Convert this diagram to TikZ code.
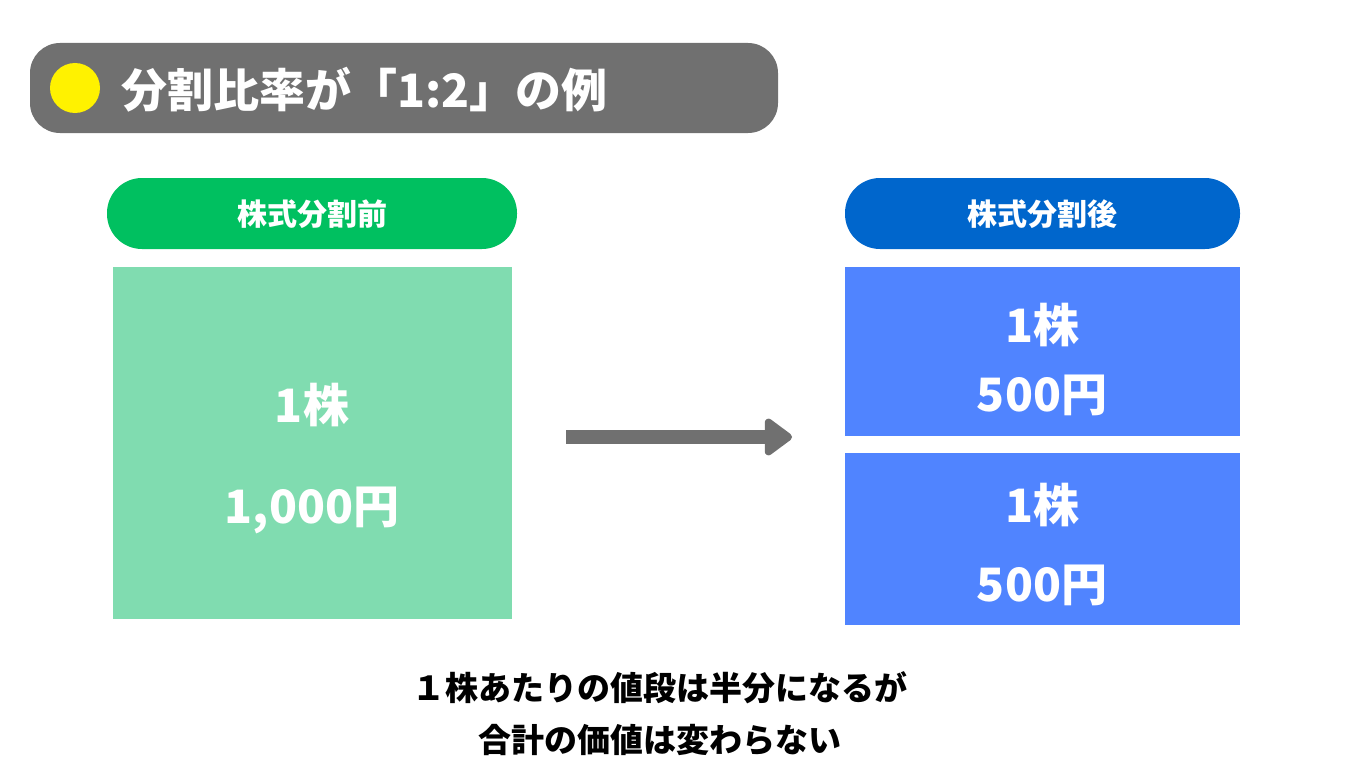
\documentclass[tikz,border=0pt]{standalone}
\usepackage{fontspec}
\setmainfont{Noto Sans CJK JP}
\usetikzlibrary{arrows.meta}
\definecolor{titlegray}{HTML}{707070}
\definecolor{tagbefore}{HTML}{00C060}
\definecolor{tagafter}{HTML}{0066CC}
\definecolor{boxbefore}{HTML}{80DCB0}
\definecolor{boxafter}{HTML}{5084FF}
\tikzset{
	tag/.style   = {rounded corners=35pt, inner sep=0pt},
	price/.style = {text=white, font=\fontsize{46}{50}\selectfont\bfseries},
	label/.style = {text=white, font=\fontsize{30}{34}\selectfont\bfseries}
}
\begin{document}
\begin{tikzpicture}[x=1pt, y=-1pt]
	\useasboundingbox (0,0) rectangle (1347,768);
	\fill[white] (0,0) rectangle (1347,768);
	% title
	\fill[titlegray, rounded corners=30pt] (30,43) rectangle (778,133);
	\fill[yellow] (75,88) circle (25);
	\node[anchor=west, text=white, font=\fontsize{46}{50}\selectfont\bfseries] (title) at (118,90) {分割比率が「1:2」の例};
	% before
	\fill[tagbefore, tag] (107,178) rectangle (517,249);
	\node[label] (tagb) at (312,214) {株式分割前};
	\fill[boxbefore] (113,267) rectangle (512,619);
	\node[price] (sb) at (312,405) {1株};
	\node[price] (pb) at (312,510) {1,000円};
	% arrow
	\coordinate (a1) at (566,437);
	\coordinate (a2) at (792,437);
	\draw[titlegray, line width=14pt, -{Triangle[length=30pt,width=42pt,round]}] (a1) -- (a2);
	% after
	\fill[tagafter, tag] (845,178) rectangle (1240,249);
	\node[label] (taga) at (1042,214) {株式分割後};
	\fill[boxafter] (845,267) rectangle (1240,436);
	\fill[boxafter] (845,453) rectangle (1240,625);
	\node[price] (sa1) at (1042,325) {1株};
	\node[price] (pa1) at (1042,395) {500円};
	\node[price] (sa2) at (1042,505) {1株};
	\node[price] (pa2) at (1042,585) {500円};
	% note
	\node[align=center, font=\fontsize{33}{52}\selectfont\bfseries] (note) at (660,714) {１株あたりの値段は半分になるが\\合計の価値は変わらない};
\end{tikzpicture}
\end{document}
